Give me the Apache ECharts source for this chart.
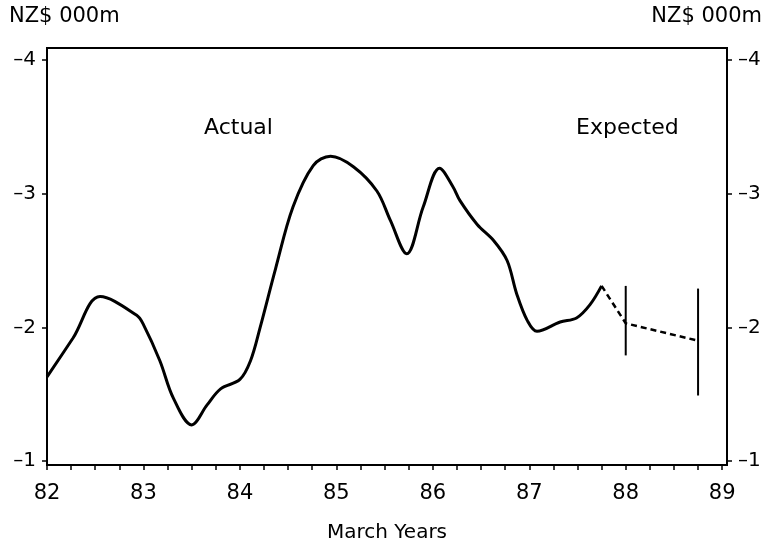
<!DOCTYPE html>
<html>
<head>
<meta charset="utf-8">
<script src="https://cdn.jsdelivr.net/npm/echarts@6/dist/echarts.min.js"></script>
<style>
  html, body { margin: 0; padding: 0; background: #fff; }
  #chart { width: 764px; height: 544px; }
</style>
</head>
<body>
<div id="chart"></div>
<script>
// actual balance, NZ$ 000m, by march year
const actual = [
  [82.00, -1.63], [82.27, -1.92], [82.55, -2.23], [82.93, -2.09], [83.00, -2.02],
  [83.17, -1.75], [83.31, -1.47], [83.50, -1.27], [83.66, -1.42], [83.80, -1.54],
  [84.00, -1.61], [84.11, -1.75], [84.21, -2.00], [84.37, -2.44], [84.55, -2.90],
  [84.76, -3.21], [84.94, -3.28], [85.18, -3.20], [85.42, -3.02], [85.56, -2.80],
  [85.73, -2.55], [85.90, -2.90], [86.07, -3.19], [86.21, -3.05], [86.28, -2.95],
  [86.46, -2.77], [86.63, -2.65], [86.77, -2.50], [86.87, -2.25], [86.98, -2.05],
  [87.08, -1.97], [87.32, -2.04], [87.49, -2.07], [87.63, -2.17], [87.75, -2.31]
];
const expected = [[87.75, -2.31], [88.00, -2.03], [88.75, -1.90]];
// range bars: year, low, high
const ranges = [[88.00, -2.31, -1.79], [88.75, -2.29, -1.49]];
const yearTicks = [82, 83, 84, 85, 86, 87, 88, 89];
const quarterTicks = [];
for (let y = 82; y <= 89; y += 0.25) quarterTicks.push(y);
const valueTicks = [-4, -3, -2, -1];

const font = 'DejaVu Sans';
const chart = echarts.init(document.getElementById('chart'));

const yAxisBase = {
  type: 'value',
  inverse: true,
  min: -4.09,
  max: -0.97,
  splitLine: { show: false },
  axisLine: { show: true, lineStyle: { color: '#000', width: 2 } },
  axisTick: { show: true, length: 5, customValues: valueTicks, lineStyle: { color: '#000', width: 1.5 } },
  axisLabel: {
    customValues: valueTicks,
    color: '#000', fontSize: 20, fontFamily: font, margin: 11,
    formatter: v => '\u2013' + Math.abs(v)
  }
};

chart.setOption({
  animation: false,
  grid: {
    left: 47, right: 37, top: 48, bottom: 79,
    outerBoundsMode: 'none',
    show: true, borderColor: '#000', borderWidth: 2
  },
  graphic: [
    { type: 'text', left: 9, top: 6, style: { text: 'NZ$ 000m', fontSize: 21, fontFamily: font, fill: '#000' } },
    { type: 'text', right: 2, top: 6, style: { text: 'NZ$ 000m', fontSize: 21, fontFamily: font, fill: '#000' } },
    { type: 'text', left: 204, top: 117, style: { text: 'Actual', fontSize: 22, fontFamily: font, fill: '#000' } },
    { type: 'text', left: 576, top: 117, style: { text: 'Expected', fontSize: 22, fontFamily: font, fill: '#000' } }
  ],
  xAxis: {
    type: 'value',
    min: 82,
    max: 89.05,
    name: 'March Years',
    nameLocation: 'middle',
    nameGap: 58,
    nameTextStyle: { color: '#000', fontSize: 20, fontFamily: font },
    splitLine: { show: false },
    axisLine: { show: true, lineStyle: { color: '#000', width: 2 } },
    axisTick: { show: true, length: 5, customValues: quarterTicks, lineStyle: { color: '#000', width: 1.5 } },
    axisLabel: { customValues: yearTicks, color: '#000', fontSize: 21, fontFamily: font, margin: 18 }
  },
  yAxis: [
    Object.assign({ position: 'left' }, yAxisBase),
    Object.assign({ position: 'right' }, yAxisBase)
  ],
  series: [
    {
      type: 'line',
      data: actual,
      smooth: 0.35,
      symbol: 'none',
      lineStyle: { color: '#000', width: 3 }
    },
    {
      type: 'line',
      data: expected,
      symbol: 'none',
      lineStyle: { color: '#000', width: 2.5, type: [6, 4] }
    },
    {
      type: 'custom',
      data: ranges,
      renderItem: (params, api) => {
        const top = api.coord([api.value(0), api.value(1)]);
        const bottom = api.coord([api.value(0), api.value(2)]);
        return {
          type: 'line',
          shape: { x1: top[0], y1: top[1], x2: bottom[0], y2: bottom[1] },
          style: { stroke: '#000', lineWidth: 2 }
        };
      }
    }
  ]
});
</script>
</body>
</html>
